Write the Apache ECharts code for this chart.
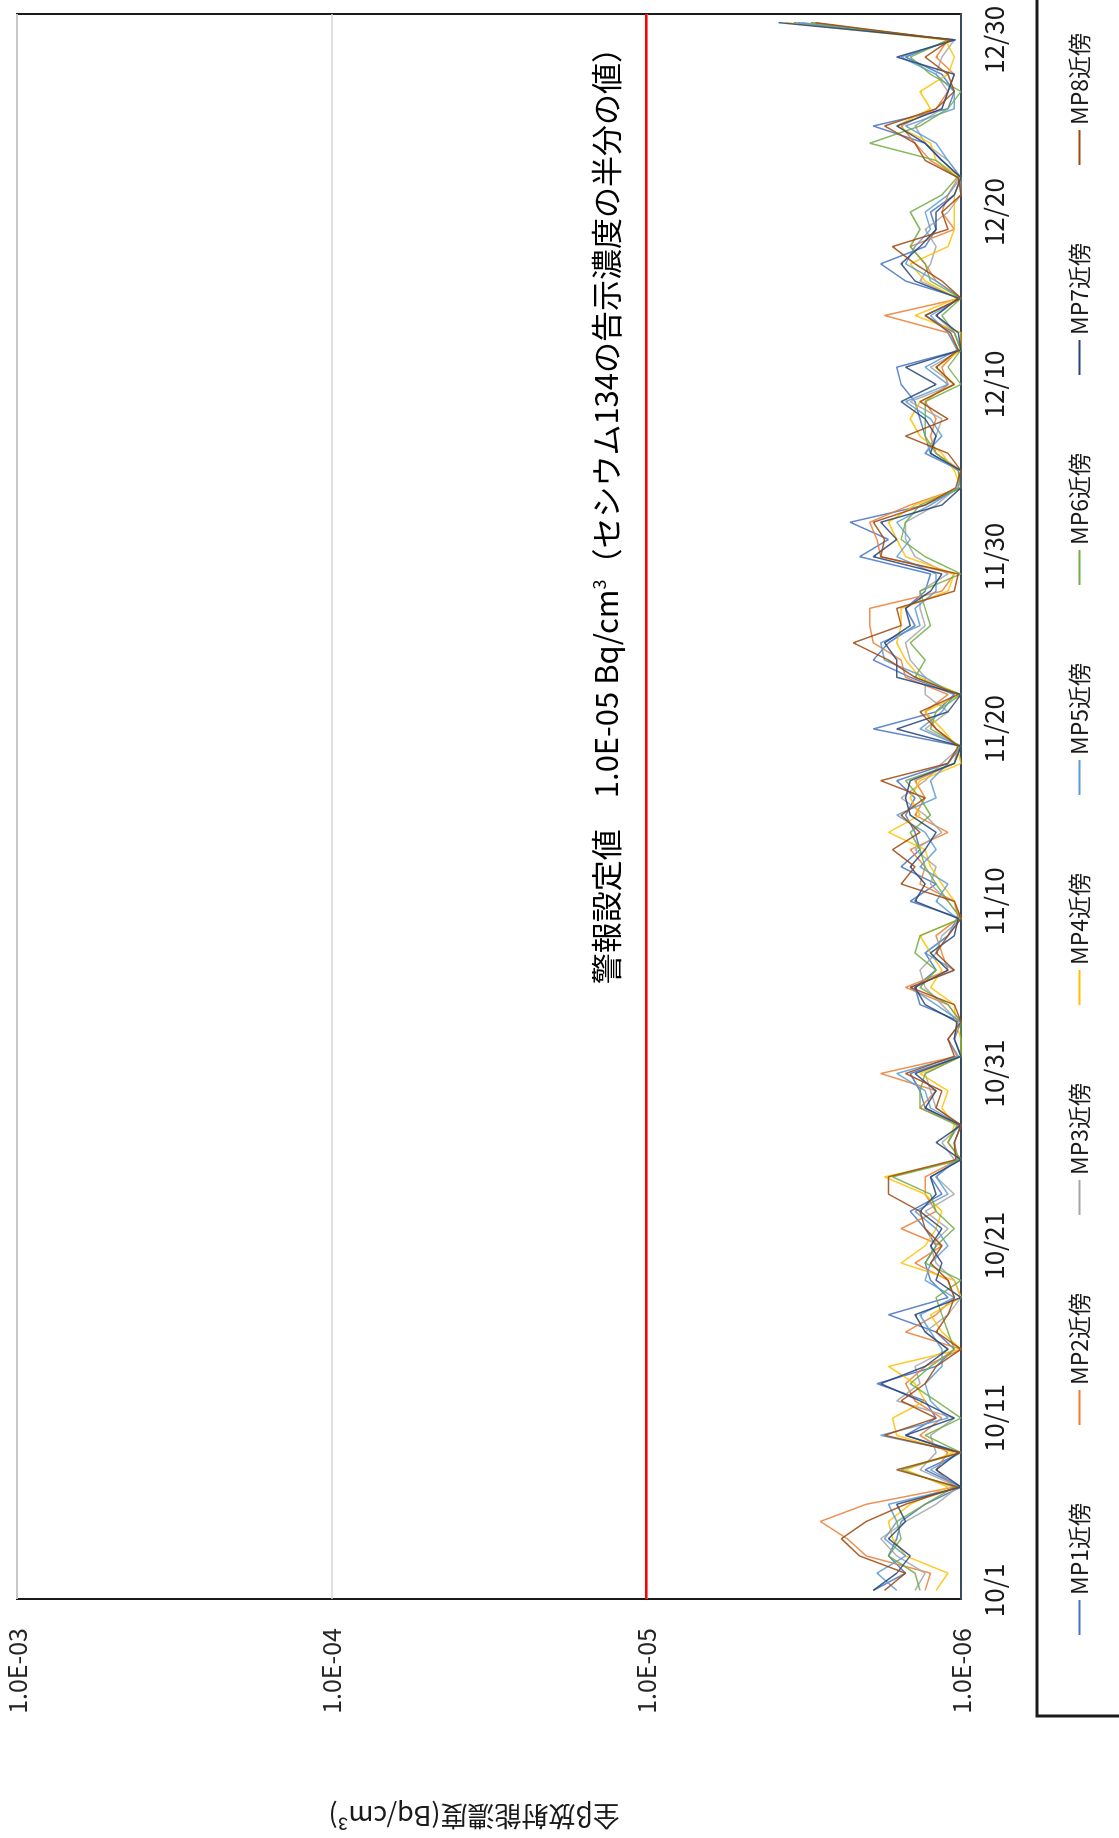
<!DOCTYPE html>
<html>
<head>
<meta charset="utf-8">
<script src="https://cdn.jsdelivr.net/npm/echarts@6/dist/echarts.min.js"></script>
<style>
html,body{margin:0;padding:0;background:#fff;}
#page{position:relative;width:1119px;height:1838px;overflow:hidden;}
/* the chart is laid out landscape and turned a quarter turn to the left */
#chart{position:absolute;left:0;top:1838px;width:1838px;height:1119px;transform-origin:0 0;transform:rotate(-90deg);}
</style>
</head>
<body>
<div id="page"><div id="chart"></div></div>
<script>
// 10/1 - 12/31
const monthDays = [[10, 31], [11, 30], [12, 31]];
const dates = [];
monthDays.forEach(([m, n]) => { for (let d = 1; d <= n; d++) dates.push(m + '/' + d); });

const names = ['MP1近傍', 'MP2近傍', 'MP3近傍', 'MP4近傍', 'MP5近傍', 'MP6近傍', 'MP7近傍', 'MP8近傍'];
const colors = ['#4472c4', '#ed7d31', '#a5a5a5', '#ffc000', '#5b9bd5', '#70ad47', '#264478', '#9e480e'];
const yTickLabels = ['1.0E-03', '1.0E-04', '1.0E-05', '1.0E-06'];
const alarmValue = 1.0e-5;
const alarmText = '警報設定値　1.0E-05 Bq/cm{sup|3}（セシウム134の告示濃度の半分の値）';

// values in units of 1.0E-06 Bq/cm3
const mp1 = [1.9,1.5,1.7,1.6,1.55,1.3,1.0,1.3,1.0,1.5, 1.2,1.3,1.85,1.2,1.05,1.2,1.7,1.1,1.25,1.3,
  1.2,1.3,1.45,1.15,1.25,1.0,1.1,1.02,1.3,1.35, 1.45,1.0,1.05,1.0,1.35,1.4,1.2,1.3,1.1,1.0,
  1.45,1.2,1.55,1.35,1.4,1.5,1.4,1.6,1.1,1.0, 1.9,1.2,1.05,1.45,1.9,1.7,1.4,1.5,1.3,1.25,
  2.1,1.7,2.25,1.3,1.0,1.02,1.25,1.3,1.35,1.4, 1.55,1.6,1.0,1.05,1.3,1.0,1.5,1.8,1.3,1.2,
  1.25,1.05,1.0,1.15,1.3,1.9,1.1,1.05,1.15,1.5, 1.08,3.4];
const mp2 = [1.3,1.25,2.0,2.3,2.8,2.0,1.05,1.2,1.1,1.35, 1.15,1.4,1.5,1.3,1.0,1.5,1.2,1.05,1.1,1.4,
  1.15,1.55,1.2,1.3,1.3,1.02,1.05,1.0,1.35,1.2, 1.8,1.03,1.1,1.0,1.1,1.5,1.1,1.15,1.2,1.02,
  1.05,1.35,1.3,1.45,1.1,1.4,1.3,1.4,1.05,1.02, 1.2,1.3,1.1,1.5,1.55,1.9,1.95,1.95,1.15,1.05,
  1.8,1.85,1.95,1.45,1.0,1.0,1.2,1.25,1.2,1.3, 1.1,1.15,1.02,1.1,1.75,1.0,1.2,1.3,1.45,1.05,
  1.15,1.1,1.02,1.25,1.4,1.55,1.2,1.1,1.05,1.2, 1.1,3.0];
const mp3 = [1.4,1.3,1.6,1.8,1.5,1.2,1.02,1.35,1.2,1.25, 1.05,1.6,1.35,1.4,1.1,1.3,1.1,1.0,1.05,1.2,
  1.25,1.1,1.3,1.05,1.2,1.05,1.15,1.0,1.2,1.25, 1.3,1.0,1.05,1.02,1.15,1.3,1.35,1.2,1.15,1.0,
  1.1,1.25,1.2,1.4,1.15,1.3,1.55,1.3,1.15,1.0, 1.3,1.1,1.3,1.3,1.45,1.5,1.3,1.35,1.35,1.1,
  1.4,1.5,1.5,1.2,1.03,1.0,1.3,1.2,1.15,1.45, 1.05,1.25,1.0,1.05,1.2,1.02,1.35,1.25,1.2,1.3,
  1.1,1.0,1.0,1.1,1.3,1.4,1.15,1.1,1.2,1.15, 1.05,3.2];
const mp4 = [1.2,1.1,1.5,1.65,1.7,1.45,1.1,1.5,1.05,1.6, 1.65,1.3,1.4,1.7,1.0,1.15,1.25,1.0,1.05,1.55,
  1.3,1.2,1.15,1.3,1.75,1.0,1.1,1.05,1.15,1.1, 1.35,1.0,1.0,1.04,1.05,1.25,1.15,1.25,1.35,1.0,
  1.05,1.15,1.25,1.3,1.7,1.35,1.45,1.35,1.0,1.03, 1.15,1.3,1.0,1.35,1.5,1.6,1.55,1.55,1.1,1.05,
  1.5,1.6,1.7,1.4,1.0,1.05,1.15,1.35,1.45,1.35, 1.05,1.2,1.0,1.0,1.4,1.03,1.3,1.45,1.1,1.05,
  1.05,1.05,1.0,1.2,1.25,1.6,1.25,1.35,1.1,1.05, 1.12,3.6];
const mp5 = [1.6,1.85,1.5,1.75,1.6,1.7,1.0,1.25,1.0,1.8, 1.1,1.25,1.3,1.15,1.15,1.25,1.35,1.05,1.3,1.25,
  1.1,1.2,1.4,1.1,1.2,1.03,1.05,1.0,1.25,1.3, 1.6,1.02,1.1,1.0,1.2,1.45,1.05,1.3,1.1,1.03,
  1.2,1.1,1.35,1.2,1.3,1.6,1.2,1.25,1.1,1.0, 1.35,1.15,1.05,1.3,1.75,1.8,1.35,1.4,1.2,1.2,
  1.6,1.45,1.6,1.25,1.02,1.0,1.3,1.15,1.25,1.5, 1.1,1.3,1.03,1.1,1.25,1.0,1.2,1.5,1.4,1.25,
  1.3,1.1,1.0,1.1,1.2,1.5,1.05,1.05,1.2,1.55, 1.06,3.3];
const mp6 = [1.35,1.4,1.7,1.55,1.6,1.3,1.05,1.55,1.0,1.3, 1.0,1.2,1.45,1.25,1.05,1.1,1.15,1.2,1.0,1.3,
  1.2,1.05,1.2,1.25,1.65,1.0,1.1,1.03,1.35,1.35, 1.3,1.0,1.0,1.0,1.1,1.35,1.2,1.4,1.35,1.0,
  1.1,1.2,1.3,1.35,1.45,1.25,1.35,1.5,1.05,1.0, 1.25,1.2,1.0,1.4,1.3,1.45,1.25,1.3,1.35,1.0,
  1.3,1.55,1.5,1.35,1.0,1.02,1.2,1.3,1.3,1.3, 1.0,1.1,1.0,1.05,1.15,1.0,1.25,1.3,1.45,1.35,
  1.45,1.15,1.03,1.2,1.95,1.35,1.1,1.0,1.25,1.45, 1.1,3.0];
const mp7 = [1.9,1.6,1.45,1.7,1.5,1.6,1.0,1.2,1.02,1.5, 1.05,1.35,1.8,1.3,1.1,1.3,1.4,1.0,1.2,1.15,
  1.25,1.15,1.35,1.2,1.25,1.0,1.2,1.0,1.3,1.2, 1.4,1.0,1.05,1.03,1.3,1.4,1.1,1.25,1.05,1.02,
  1.4,1.3,1.45,1.3,1.2,1.45,1.5,1.45,1.05,1.0, 1.6,1.1,1.0,1.6,1.6,1.75,1.45,1.5,1.25,1.15,
  1.9,1.6,1.8,1.15,1.0,1.0,1.25,1.2,1.3,1.55, 1.2,1.5,1.0,1.02,1.2,1.02,1.4,1.55,1.35,1.2,
  1.2,1.05,1.0,1.15,1.3,1.6,1.15,1.1,1.05,1.6, 1.04,3.8];
const mp8 = [1.75,1.5,2.1,2.4,2.0,1.5,1.02,1.6,1.0,1.75, 1.2,1.55,1.3,1.2,1.0,1.2,1.1,1.05,1.1,1.25,
  1.15,1.3,1.35,1.7,1.7,1.04,1.05,1.0,1.2,1.15, 1.5,1.05,1.1,1.0,1.05,1.45,1.05,1.2,1.1,1.0,
  1.05,1.55,1.4,1.65,1.35,1.55,1.3,1.8,1.1,1.02, 1.2,1.35,1.02,1.4,1.7,2.2,1.55,1.6,1.05,1.02,
  1.8,1.75,1.9,1.3,1.04,1.0,1.1,1.5,1.1,1.35, 1.05,1.2,1.02,1.08,1.3,1.0,1.15,1.4,1.65,1.1,
  1.15,1.0,1.02,1.3,1.4,1.75,1.2,1.05,1.1,1.3, 1.08,2.9];
const seriesValues = [mp1, mp2, mp3, mp4, mp5, mp6, mp7, mp8];

const jp = '"Noto Sans CJK JP", "Noto Sans", sans-serif';

const lineSeries = names.map((name, i) => ({
  name: name,
  type: 'line',
  data: seriesValues[i].map(v => v * 1e-6),
  symbol: 'none',
  color: colors[i],
  lineStyle: { width: 1.5, opacity: 0.85 }
}));

// red alarm line across the whole plot, placed through the y axis scale
const alarmSeries = {
  type: 'custom',
  name: 'alarm',
  silent: true,
  z: 5,
  data: [[0, alarmValue]],
  renderItem: (params, api) => {
    const cs = params.coordSys;
    const y = api.coord([0, api.value(1)])[1];
    return {
      type: 'group',
      children: [
        { type: 'line', shape: { x1: cs.x, y1: y, x2: cs.x + cs.width, y2: y },
          style: { stroke: '#ff0000', lineWidth: 2.5 } },
        { type: 'text', x: cs.x + cs.width - 18, y: y - 24,
          style: {
            text: alarmText, fill: '#000', fontSize: 31, fontFamily: jp,
            align: 'right', verticalAlign: 'bottom',
            rich: { sup: { fontSize: 18, fontFamily: jp, padding: [0, 0, 14, 0] } }
          } }
      ]
    };
  }
};

let myChart = echarts.init(document.getElementById('chart'));
myChart.setOption({
  animation: false,
  textStyle: { fontFamily: jp },
  grid: { left: 231, right: 14, top: 17, bottom: 158, show: true, borderColor: '#1a1a1a', borderWidth: 2 },
  legend: {
    data: names,
    left: 198,
    top: 1063,
    icon: 'rect',
    itemWidth: 35,
    itemHeight: 2,
    itemGap: 78,
    textStyle: { fontSize: 23, color: '#1a1a1a', width: 90, fontFamily: jp }
  },
  xAxis: {
    type: 'category',
    data: dates,
    boundaryGap: true,
    axisLine: { lineStyle: { color: '#3b4a5e', width: 2 } },
    axisTick: { show: false },
    axisLabel: { interval: 9, fontSize: 26, color: '#1a1a1a', margin: 20 },
    splitLine: { show: false }
  },
  yAxis: {
    type: 'log',
    logBase: 10,
    min: 1e-6,
    max: 1e-3,
    name: '全β放射能濃度(Bq/cm³)',
    nameLocation: 'middle',
    nameRotate: 90,
    nameGap: 204,
    nameTextStyle: { fontSize: 27, color: '#1a1a1a', padding: [0, 0, 0, 30] },
    axisLine: { show: false },
    axisTick: { show: false },
    axisLabel: {
      fontSize: 25,
      color: '#262626',
      margin: 29,
      formatter: v => yTickLabels[Math.round(-Math.log10(v)) - 3]
    },
    splitLine: { lineStyle: { color: '#d4d4d4', width: 1.5 } }
  },
  graphic: [{
    type: 'rect',
    shape: { x: 122, y: 1037, width: 1800, height: 200 },
    style: { fill: 'none', stroke: '#1a1a1a', lineWidth: 3 },
    silent: true
  }],
  series: lineSeries.concat([alarmSeries])
});
</script>
</body>
</html>
